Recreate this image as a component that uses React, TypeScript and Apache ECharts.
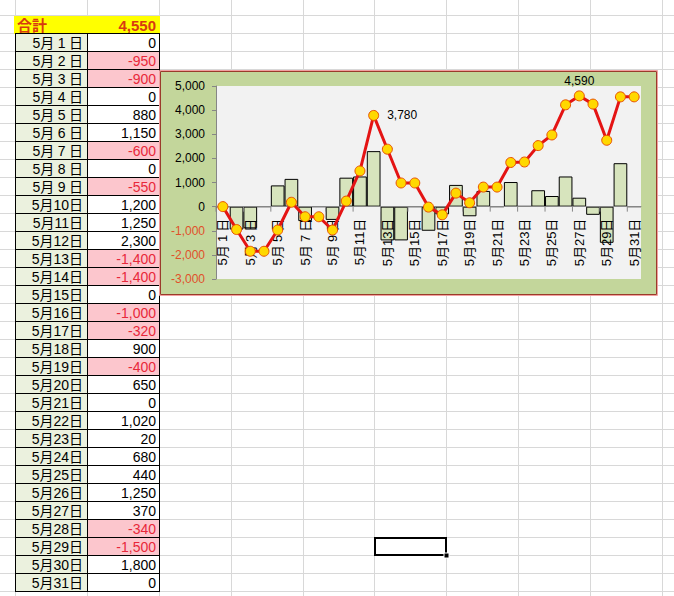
import React, { useEffect, useRef } from "react";
import * as echarts from "echarts";

// ---- data ----
const categories = [
  "5月1日", "5月2日", "5月3日", "5月4日", "5月5日", "5月6日", "5月7日", "5月8日",
  "5月9日", "5月10日", "5月11日", "5月12日", "5月13日", "5月14日", "5月15日", "5月16日",
  "5月17日", "5月18日", "5月19日", "5月20日", "5月21日", "5月22日", "5月23日", "5月24日",
  "5月25日", "5月26日", "5月27日", "5月28日", "5月29日", "5月30日", "5月31日",
];
const dailyValues = [
  0, -950, -900, 0, 880, 1150, -600, 0, -550, 1200, 1250, 2300, -1400, -1400, 0, -1000,
  -320, 900, -400, 650, 0, 1020, 20, 680, 440, 1250, 370, -340, -1500, 1800, 0,
];
const cumulativeValues = [
  0, -950, -1850, -1850, -970, 180, -420, -420, -970, 230, 1480, 3780, 2380, 980, 980, -20,
  -340, 560, 160, 810, 810, 1830, 1850, 2530, 2970, 4220, 4590, 4250, 2750, 4550, 4550,
];
const totalLabel = "合計";
const totalValue = 4550;
const labeledPoints = [11, 26]; // indices with data labels
const yMin = -3000;
const yMax = 5000;
const yInterval = 1000;

// ---- layout / style constants ----
const FONT = "'Liberation Sans', 'Noto Sans CJK JP', sans-serif";
const colLines = [15, 87, 159, 231, 303, 374, 446, 518, 590, 662];
const rowTop0 = 15;
const rowH = 18;
const fmt = (v: number) => v.toLocaleString("en-US");
const dispDate = (s: string) => s.replace(/月(\d)日/, "月\u2005$1\u2005日");

function buildGraphic() {
  const els: any[] = [];
  const Z = -10;
  // sheet gridlines
  for (let y = rowTop0 - rowH; y < 600; y += rowH) {
    els.push({ type: "line", z: Z, silent: true, shape: { x1: 0, y1: y + 0.5, x2: 674, y2: y + 0.5 }, style: { stroke: "#d8d8d8", lineWidth: 1 } });
  }
  colLines.forEach((x) => {
    els.push({ type: "line", z: Z, silent: true, shape: { x1: x + 0.5, y1: 0, x2: x + 0.5, y2: 596 }, style: { stroke: "#d8d8d8", lineWidth: 1 } });
  });
  // header row
  els.push({ type: "rect", z: Z, shape: { x: 14, y: rowTop0 + 1, width: 146, height: rowH }, style: { fill: "#ffff00" } });
  els.push({ type: "text", z: Z, style: { text: totalLabel, x: 17, y: rowTop0 + 10, font: `bold 15px ${FONT}`, fill: "#d83a10", align: "left", verticalAlign: "middle", textAlign: "left", textVerticalAlign: "middle" } });
  els.push({ type: "text", z: Z, style: { text: fmt(totalValue), x: 156, y: rowTop0 + 10, font: `bold 15px ${FONT}`, fill: "#d83a10", align: "right", verticalAlign: "middle", textAlign: "right", textVerticalAlign: "middle" } });
  // data rows
  categories.forEach((c, i) => {
    const top = rowTop0 + rowH * (i + 1);
    const v = dailyValues[i];
    els.push({ type: "rect", z: Z, shape: { x: 15, y: top, width: 72, height: rowH }, style: { fill: "#ebf1de" } });
    els.push({ type: "rect", z: Z, shape: { x: 87, y: top, width: 72, height: rowH }, style: { fill: v < 0 ? "#fcc6cd" : "#ffffff" } });
    els.push({ type: "text", z: Z, style: { text: dispDate(c), x: 83, y: top + 10, font: `14px ${FONT}`, fill: "#000", align: "right", verticalAlign: "middle", textAlign: "right", textVerticalAlign: "middle" } });
    els.push({ type: "text", z: Z, style: { text: fmt(v), x: 156, y: top + 10, font: `14px ${FONT}`, fill: v < 0 ? "#e8283a" : "#000", align: "right", verticalAlign: "middle", textAlign: "right", textVerticalAlign: "middle" } });
  });
  // table borders
  const tTop = rowTop0 + rowH;
  const tBot = rowTop0 + rowH * (categories.length + 1);
  for (let k = 0; k <= categories.length; k++) {
    const y = tTop + rowH * k + 0.5;
    els.push({ type: "line", z: Z, shape: { x1: 15, y1: y, x2: 160, y2: y }, style: { stroke: "#000", lineWidth: 1 } });
  }
  [15, 87, 159].forEach((x) => {
    els.push({ type: "line", z: Z, shape: { x1: x + 0.5, y1: tTop, x2: x + 0.5, y2: tBot + 1 }, style: { stroke: "#000", lineWidth: 1 } });
  });
  // chart box
  els.push({ type: "rect", z: Z, shape: { x: 159.5, y: 70.5, width: 498, height: 225 }, style: { fill: "none", stroke: "#f2a0a0", lineWidth: 1 } });
  els.push({ type: "rect", z: Z, shape: { x: 160.5, y: 71.5, width: 496, height: 223 }, style: { fill: "#c3d69b", stroke: "#9a3b2b", lineWidth: 1 } });
  // selected cell
  const selTop = rowTop0 + rowH * 29;
  els.push({ type: "rect", z: Z, shape: { x: 375, y: selTop + 1, width: 71, height: rowH - 1 }, style: { fill: "none", stroke: "#000", lineWidth: 2 } });
  els.push({ type: "rect", z: Z, shape: { x: 444, y: selTop + rowH - 2, width: 5, height: 5 }, style: { fill: "#000", stroke: "#fff", lineWidth: 1 } });
  return els;
}

export default function App() {
  const ref = useRef<HTMLDivElement>(null);
  useEffect(() => {
    if (!ref.current) return;
    const chart = echarts.init(ref.current, undefined, { renderer: "svg" });
    const option: any = {
      animation: false,
      textStyle: { fontFamily: FONT },
      graphic: { elements: buildGraphic() },
      grid: { left: 216, top: 86, width: 425, height: 193, show: true, backgroundColor: "#f2f2f2", borderWidth: 0 },
      xAxis: {
        type: "category",
        data: categories,
        z: 2,
        axisLine: { onZero: true, lineStyle: { color: "#868686", width: 1 } },
        axisTick: { show: false },
        axisLabel: { show: false },
        splitLine: { show: false },
      },
      yAxis: {
        type: "value",
        min: yMin,
        max: yMax,
        interval: yInterval,
        axisLine: { show: true, lineStyle: { color: "#868686" } },
        axisTick: { show: true, length: 4, lineStyle: { color: "#868686" } },
        splitLine: { show: false },
        axisLabel: {
          margin: 11,
          fontFamily: FONT,
          formatter: (v: number) => (v < 0 ? `{n|${fmt(v)}}` : `{p|${fmt(v)}}`),
          rich: {
            n: { color: "#e0502a", fontSize: 12, fontFamily: FONT },
            p: { color: "#000", fontSize: 12, fontFamily: FONT },
          },
        },
      },
      series: [
        {
          type: "bar",
          data: dailyValues,
          z: 1,
          barCategoryGap: "0%",
          itemStyle: { color: "#d7e4bd", borderColor: "#000", borderWidth: 1 },
        },
        {
          // category labels & ticks placed on the zero line
          type: "custom",
          z: 2,
          silent: true,
          clip: false,
          data: categories.map((_, i) => [i, 0]),
          encode: { x: 0, y: 1 },
          renderItem: (params: any, api: any) => {
            const i = api.value(0);
            if (i % 2 !== 0) return null;
            const p = api.coord([i, 0]);
            const bw = api.size([1, 0])[0];
            return {
              type: "group",
              children: [
                {
                  type: "line",
                  shape: { x1: p[0] - bw / 2, y1: p[1], x2: p[0] - bw / 2, y2: p[1] + 5 },
                  style: { stroke: "#868686", lineWidth: 1 },
                },
                {
                  type: "text",
                  x: p[0],
                  y: p[1] + 12,
                  rotation: Math.PI / 2,
                  style: {
                    text: dispDate(categories[i]),
                    font: `13px ${FONT}`,
                    fill: "#000",
                    align: "right",
                    verticalAlign: "middle",
                    textAlign: "right",
                    textVerticalAlign: "middle",
                  },
                },
              ],
            };
          },
        },
        {
          type: "line",
          z: 3,
          showAllSymbol: true,
          data: cumulativeValues.map((v, i) =>
            labeledPoints.includes(i)
              ? {
                  value: v,
                  label: {
                    show: true,
                    position: i === labeledPoints[0] ? "right" : "top",
                    distance: i === labeledPoints[0] ? 8 : 3,
                    formatter: (p: any) => fmt(p.value),
                    color: "#000",
                    fontSize: 12,
                    fontFamily: FONT,
                  },
                }
              : v
          ),
          symbol: "circle",
          symbolSize: 10,
          lineStyle: { color: "#e41414", width: 3 },
          itemStyle: { color: "#ffd800", borderColor: "#e85000", borderWidth: 1 },
        },
      ],
    };
    chart.setOption(option);
    return () => chart.dispose();
  }, []);
  return <div ref={ref} style={{ position: "absolute", left: 0, top: 0, width: 674, height: 596 }} />;
}
